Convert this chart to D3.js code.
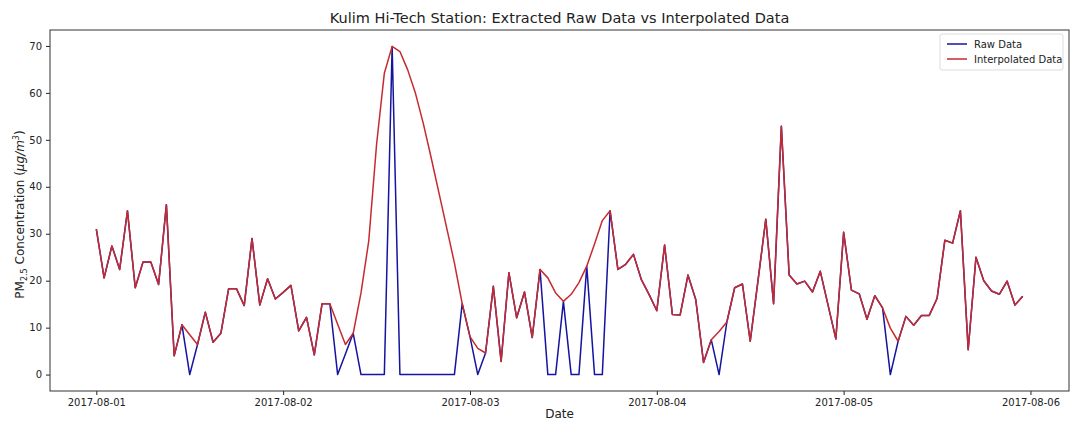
<!DOCTYPE html>
<html>
<head>
<meta charset="utf-8">
<script src="https://cdn.jsdelivr.net/npm/d3@7"></script>
<style>
  body { margin: 0; background: #fff; }
  svg { font-family: "DejaVu Sans", sans-serif; }
</style>
</head>
<body>
<div id="container"></div>
<script>
// hourly PM2.5 readings, 2017-08-01 00:00 .. 2017-08-05 23:00
let startTime = "2017-08-01T00:00:00Z";

let interpValues = [
  31.0, 20.6, 27.4, 22.4, 34.9, 18.5, 24.0, 24.0, 19.2, 36.2, 4.0, 10.6,
  8.5, 6.4, 13.3, 6.9, 8.8, 18.3, 18.3, 14.7, 29.0, 14.8, 20.4, 16.1,
  17.5, 19.0, 9.3, 12.2, 4.2, 15.1, 15.1, 10.7, 6.4, 8.8, 17.4, 28.5,
  49.0, 64.2, 69.9, 68.8, 64.9, 59.9, 53.5, 46.3, 38.8, 31.3, 23.8, 15.1,
  8.1, 5.6, 4.6, 18.8, 2.8, 21.7, 12.1, 17.6, 7.9, 22.4, 20.6, 17.4,
  15.6, 17.1, 19.6, 23.1, 27.8, 32.8, 34.9, 22.4, 23.5, 25.6, 20.3, 17.1,
  13.6, 27.6, 12.8, 12.7, 21.2, 16.0, 2.6, 7.4, 9.2, 11.2, 18.5, 19.3,
  7.1, 20.0, 33.1, 15.1, 52.9, 21.2, 19.3, 19.9, 17.6, 22.0, 14.8, 7.6,
  30.3, 18.0, 17.2, 11.8, 16.8, 14.2, 9.9, 7.1, 12.4, 10.5, 12.6, 12.6,
  16.2, 28.6, 28.0, 34.9, 5.3, 25.0, 20.0, 17.8, 17.1, 19.9, 14.8, 16.7
];

let rawValues = [
  31.0, 20.6, 27.4, 22.4, 34.9, 18.5, 24.0, 24.0, 19.2, 36.2, 4.0, 10.6,
  0, 6.4, 13.3, 6.9, 8.8, 18.3, 18.3, 14.7, 29.0, 14.8, 20.4, 16.1,
  17.5, 19.0, 9.3, 12.2, 4.2, 15.1, 15.1, 0, 4.4, 8.8, 0, 0,
  0, 0, 69.9, 0, 0, 0, 0, 0, 0, 0, 0, 15.1,
  8.1, 0, 4.6, 18.8, 2.8, 21.7, 12.1, 17.6, 7.9, 22.4, 0, 0,
  15.6, 0, 0, 23.1, 0, 0, 34.9, 22.4, 23.5, 25.6, 20.3, 17.1,
  13.6, 27.6, 12.8, 12.7, 21.2, 16.0, 2.6, 7.4, 0, 11.2, 18.5, 19.3,
  7.1, 20.0, 33.1, 15.1, 52.9, 21.2, 19.3, 19.9, 17.6, 22.0, 14.8, 7.6,
  30.3, 18.0, 17.2, 11.8, 16.8, 14.2, 0, 7.1, 12.4, 10.5, 12.6, 12.6,
  16.2, 28.6, 28.0, 34.9, 5.3, 25.0, 20.0, 17.8, 17.1, 19.9, 14.8, 16.7
];

let yTicks = [0, 10, 20, 30, 40, 50, 60, 70];
let seriesNames = ["Raw Data", "Interpolated Data"];
let seriesColors = ["#1414a0", "#c62a2e"];

let w = 1076;
let h = 421;
let padL = 50, padR = 1069, padT = 30, padB = 391;

let t0 = new Date(startTime);
let times = interpValues.map((v, i) => d3.utcHour.offset(t0, i));
let rawData = rawValues.map((v, i) => ({t: times[i], v: v}));
let interpData = interpValues.map((v, i) => ({t: times[i], v: v}));

let viz = d3.select("#container")
  .append("svg")
  .attr("width", w)
  .attr("height", h);

// matplotlib-like 5% margins
let tMin = times[0], tMax = times[times.length - 1];
let pad = (tMax - tMin) * 0.05;
let xScale = d3.scaleUtc()
  .domain([new Date(+tMin - pad), new Date(+tMax + pad)])
  .range([padL, padR]);

let vMax = d3.max(interpValues.concat(rawValues));
let vPad = vMax * 0.05;
let yScale = d3.scaleLinear()
  .domain([-vPad, vMax + vPad])
  .range([padB, padT]);

let xAxis = d3.axisBottom(xScale)
  .ticks(d3.utcDay.every(1))
  .tickFormat(d3.utcFormat("%Y-%m-%d"))
  .tickSizeOuter(0)
  .tickSize(4)
  .tickPadding(4);

let yAxis = d3.axisLeft(yScale)
  .tickValues(yTicks)
  .tickSizeOuter(0)
  .tickSize(4)
  .tickPadding(4);

let xG = viz.append("g")
  .attr("transform", "translate(0," + padB + ")")
  .call(xAxis);
let yG = viz.append("g")
  .attr("transform", "translate(" + padL + ",0)")
  .call(yAxis);

[xG, yG].forEach(g => {
  g.select(".domain").remove();
  g.selectAll("text").attr("font-size", 10).attr("fill", "#222").attr("font-family", "DejaVu Sans");
  g.selectAll("line").attr("stroke", "#222");
});

viz.append("clipPath").attr("id", "clip")
  .append("rect")
  .attr("x", padL).attr("y", padT)
  .attr("width", padR - padL).attr("height", padB - padT);

let lineMaker = d3.line()
  .x(d => xScale(d.t))
  .y(d => yScale(d.v));

viz.append("path")
  .datum(rawData)
  .attr("clip-path", "url(#clip)")
  .attr("d", lineMaker)
  .attr("fill", "none")
  .attr("stroke", seriesColors[0])
  .attr("stroke-width", 1.5)
  .attr("stroke-linejoin", "round");

viz.append("path")
  .datum(interpData)
  .attr("clip-path", "url(#clip)")
  .attr("d", lineMaker)
  .attr("fill", "none")
  .attr("stroke", seriesColors[1])
  .attr("stroke-width", 1.5)
  .attr("stroke-linejoin", "round");

// frame
viz.append("rect")
  .attr("x", padL).attr("y", padT)
  .attr("width", padR - padL).attr("height", padB - padT)
  .attr("fill", "none")
  .attr("stroke", "#333")
  .attr("stroke-width", 1);

// title
viz.append("text")
  .attr("x", (padL + padR) / 2)
  .attr("y", 23)
  .attr("text-anchor", "middle")
  .attr("font-size", 14.5)
  .attr("fill", "#222")
  .text("Kulim Hi-Tech Station: Extracted Raw Data vs Interpolated Data");

// x label
viz.append("text")
  .attr("x", (padL + padR) / 2)
  .attr("y", 418)
  .attr("text-anchor", "middle")
  .attr("font-size", 12)
  .attr("fill", "#222")
  .text("Date");

// y label
let yl = viz.append("text")
  .attr("transform", "translate(24," + ((padT + padB) / 2 + 4) + ") rotate(-90)")
  .attr("text-anchor", "middle")
  .attr("font-size", 12)
  .attr("fill", "#222");
yl.append("tspan").text("PM");
yl.append("tspan").attr("font-size", 8).attr("dy", 3).text("2.5");
yl.append("tspan").attr("dy", -3).text(" Concentration (");
yl.append("tspan").attr("font-style", "italic").text("\u03bcg/m");
yl.append("tspan").attr("font-style", "italic").attr("font-size", 8).attr("dy", -5).text("3");
yl.append("tspan").attr("dy", 5).text(")");

// legend
let lg = viz.append("g").attr("transform", "translate(940,34)");
lg.append("rect")
  .attr("width", 123).attr("height", 36)
  .attr("rx", 2)
  .attr("fill", "#fff")
  .attr("stroke", "#ddd");
seriesNames.forEach((name, i) => {
  lg.append("line")
    .attr("x1", 7).attr("x2", 27)
    .attr("y1", 10 + i * 15).attr("y2", 10 + i * 15)
    .attr("stroke", seriesColors[i])
    .attr("stroke-width", 1.5);
  lg.append("text")
    .attr("x", 34).attr("y", 14 + i * 15)
    .attr("font-size", 10)
    .attr("fill", "#222")
    .text(name);
});
</script>
</body>
</html>
